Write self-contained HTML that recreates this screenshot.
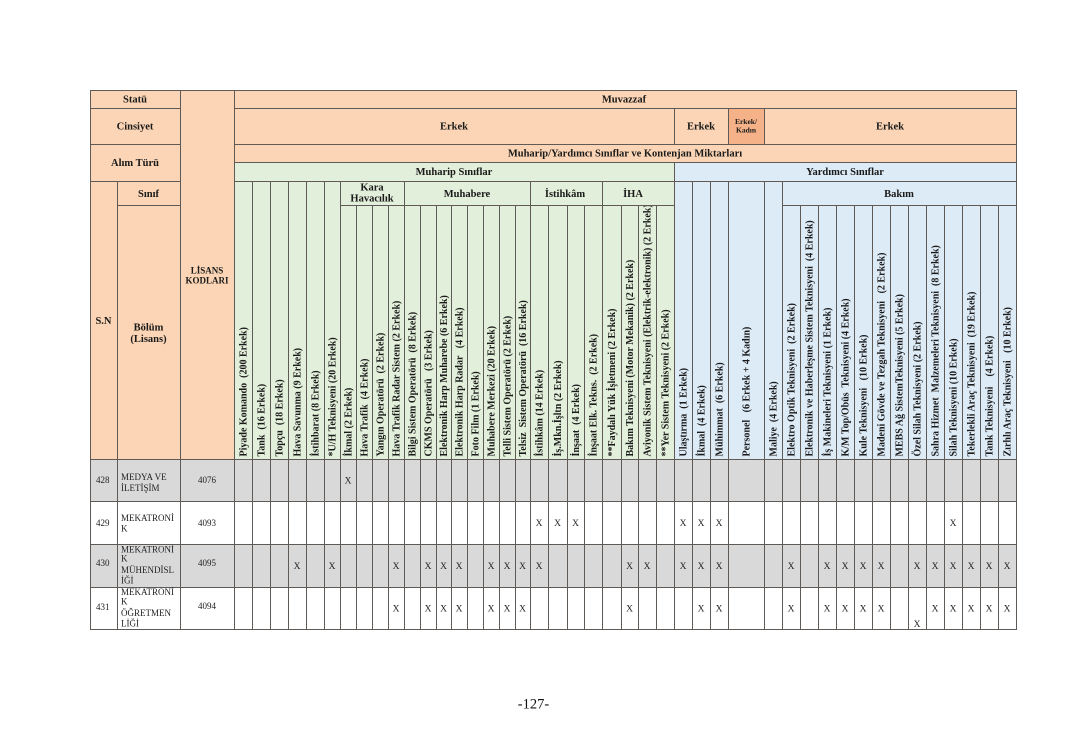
<!DOCTYPE html>
<html>
<head>
<meta charset="utf-8">
<style>
  html,body{margin:0;padding:0;background:#ffffff;}
  body{width:1068px;height:755px;overflow:hidden;position:relative;}
  svg{position:absolute;left:0;top:0;}
  .h{font-family:"Liberation Serif","DejaVu Serif",serif;font-weight:bold;font-size:10.5px;fill:#1a1a1a;text-anchor:middle;}
  .v{font-family:"Liberation Serif","DejaVu Serif",serif;font-weight:bold;font-size:10px;fill:#1a1a1a;white-space:pre;}
  .d{font-family:"Liberation Serif","DejaVu Serif",serif;font-size:9px;fill:#222;}
  .x{font-family:"Liberation Serif","DejaVu Serif",serif;font-size:9.5px;fill:#222;text-anchor:middle;}
</style>
</head>
<body>
<svg width="1068" height="755" viewBox="0 0 1068 755" xmlns="http://www.w3.org/2000/svg">
  <defs>
    <clipPath id="vc"><rect x="234" y="206" width="782" height="253"/></clipPath>
  </defs>
  <!-- fills -->
  <rect x="90" y="90" width="926" height="72" fill="#FBD5B5"/>
  <rect x="90" y="90" width="144" height="369" fill="#FBD5B5"/>
  <rect x="728" y="108" width="36" height="36" fill="#F5B288"/>
  <rect x="234" y="162" width="440" height="297" fill="#E2EFDA"/>
  <rect x="674" y="162" width="342" height="297" fill="#DDEBF7"/>
  <rect x="90" y="459" width="926" height="42" fill="#D9D9D9"/>
  <rect x="90" y="544" width="926" height="43" fill="#D9D9D9"/>

  <!-- grid lines -->
  <path fill="none" stroke="#5f5a56" stroke-width="1" shape-rendering="crispEdges" d="
  M90.5 90V630 M180.5 90V630 M234.5 90V630 M1016.5 90V630
  M117.5 181V630
  M674.5 108V144 M728.5 108V144 M764.5 108V144 M674.5 162V630
  M252.5 181V630 M270.5 181V630 M288.5 181V630 M306.5 181V630 M324.5 181V630 M340.5 181V630
  M404.5 181V630 M530.5 181V630 M602.5 181V630 M692.5 181V630 M710.5 181V630 M728.5 181V630
  M764.5 181V630 M782.5 181V630
  M356.5 205V630 M372.5 205V630 M388.5 205V630
  M420.5 205V630 M436.5 205V630 M451.5 205V630 M467.5 205V630 M483.5 205V630 M499.5 205V630 M515.5 205V630
  M548.5 205V630 M567.5 205V630 M584.5 205V630
  M621.5 205V630 M638.5 205V630 M656.5 205V630
  M800.5 205V630 M818.5 205V630 M836.5 205V630 M854.5 205V630 M872.5 205V630 M890.5 205V630
  M908.5 205V630 M926.5 205V630 M944.5 205V630 M962.5 205V630 M980.5 205V630 M998.5 205V630
  M90 90.5H1017
  M90 108.5H181 M234 108.5H1017
  M90 144.5H181 M234 144.5H1017
  M234 162.5H1017
  M90 181.5H181 M234 181.5H1017
  M117 205.5H181 M340 205.5H675 M782 205.5H1017
  M90 459.5H1017 M90 501.5H1017 M90 544.5H1017 M90 587.5H1017 M90 629.5H1017
  "/>

  <!-- left header texts -->
  <text class="h" x="135" y="102.5">Statü</text>
  <text class="h" x="135" y="129.5">Cinsiyet</text>
  <text class="h" x="135" y="166">Alım Türü</text>
  <text class="h" x="148.5" y="197">Sınıf</text>
  <text class="h" x="103.5" y="324">S.N</text>
  <text class="h" x="148.5" y="330.5">Bölüm</text>
  <text class="h" x="148.5" y="342">(Lisans)</text>
  <text class="h" x="207" y="273.5" style="font-size:9px">LİSANS</text>
  <text class="h" x="207" y="283.5" style="font-size:9px">KODLARI</text>

  <!-- right header texts -->
  <text class="h" x="624" y="102.5">Muvazzaf</text>
  <text class="h" x="454" y="129.5">Erkek</text>
  <text class="h" x="701" y="129.5">Erkek</text>
  <text class="h" x="746" y="124" style="font-size:7.5px">Erkek/</text>
  <text class="h" x="746" y="132.5" style="font-size:7.5px">Kadın</text>
  <text class="h" x="890" y="129.5">Erkek</text>
  <text class="h" x="625" y="156.5">Muharip/Yardımcı Sınıflar ve Kontenjan Miktarları</text>
  <text class="h" x="454" y="175">Muharip Sınıflar</text>
  <text class="h" x="845" y="175">Yardımcı Sınıflar</text>
  <text class="h" x="372" y="190.7">Kara</text>
  <text class="h" x="372" y="201.5">Havacılık</text>
  <text class="h" x="467" y="197">Muhabere</text>
  <text class="h" x="565" y="197">İstihkâm</text>
  <text class="h" x="633" y="197">İHA</text>
  <text class="h" x="899" y="197">Bakım</text>

  <!-- vertical column headers -->
  <g clip-path="url(#vc)">
    <text class="v" transform="translate(246.5,456.5) rotate(-90)">Piyade Komando  (200 Erkek)</text>
    <text class="v" transform="translate(264.5,456.5) rotate(-90)">Tank  (16 Erkek)</text>
    <text class="v" transform="translate(282.5,456.5) rotate(-90)">Topçu  (18 Erkek)</text>
    <text class="v" transform="translate(300.5,456.5) rotate(-90)">Hava Savunma (9 Erkek)</text>
    <text class="v" transform="translate(318.5,456.5) rotate(-90)">İstihbarat (8 Erkek)</text>
    <text class="v" transform="translate(335.5,456.5) rotate(-90)">*U/H Teknisyeni (20 Erkek)</text>
    <text class="v" transform="translate(351.5,456.5) rotate(-90)">İkmal (2 Erkek)</text>
    <text class="v" transform="translate(367.5,456.5) rotate(-90)">Hava Trafik  (4 Erkek)</text>
    <text class="v" transform="translate(383.5,456.5) rotate(-90)">Yangın Operatörü  (2 Erkek)</text>
    <text class="v" transform="translate(399.5,456.5) rotate(-90)">Hava Trafik Radar Sistem (2 Erkek)</text>
    <text class="v" transform="translate(415.5,456.5) rotate(-90)">Bilgi Sistem Operatörü  (8 Erkek)</text>
    <text class="v" transform="translate(431.5,456.5) rotate(-90)">CKMS Operatörü   (3 Erkek)</text>
    <text class="v" transform="translate(447,456.5) rotate(-90)">Elektronik Harp Muharebe (6 Erkek)</text>
    <text class="v" transform="translate(462.5,456.5) rotate(-90)">Elektronik Harp Radar   (4 Erkek)</text>
    <text class="v" transform="translate(478.5,456.5) rotate(-90)">Foto Film (1 Erkek)</text>
    <text class="v" transform="translate(494.5,456.5) rotate(-90)">Muhabere Merkezi (20 Erkek)</text>
    <text class="v" transform="translate(510.5,456.5) rotate(-90)">Telli Sistem Operatörü (2 Erkek)</text>
    <text class="v" transform="translate(526,456.5) rotate(-90)">Telsiz  Sistem Operatörü  (16 Erkek)</text>
    <text class="v" transform="translate(542.5,456.5) rotate(-90)">İstihkâm (14 Erkek)</text>
    <text class="v" transform="translate(561,456.5) rotate(-90)">İş.Mkn.İşltn (2 Erkek)</text>
    <text class="v" transform="translate(579,456.5) rotate(-90)">İnşaat  (4 Erkek)</text>
    <text class="v" transform="translate(596.5,456.5) rotate(-90)">İnşaat Elk. Tekns.  (2 Erkek)</text>
    <text class="v" transform="translate(615,456.5) rotate(-90)">**Faydalı Yük İşletmeni (2 Erkek)</text>
    <text class="v" transform="translate(633,456.5) rotate(-90)">Bakım Teknisyeni (Motor Mekanik) (2 Erkek)</text>
    <text class="v" transform="translate(650.5,456.5) rotate(-90)">Aviyonik Sistem Teknisyeni (Elektrik-elektronik) (2 Erkek)</text>
    <text class="v" transform="translate(668.5,456.5) rotate(-90)">**Yer Sistem Teknisyeni (2 Erkek)</text>
    <text class="v" transform="translate(686.5,456.5) rotate(-90)">Ulaştırma  (1 Erkek)</text>
    <text class="v" transform="translate(704.5,456.5) rotate(-90)">İkmal  (4 Erkek)</text>
    <text class="v" transform="translate(722.5,456.5) rotate(-90)">Mühimmat  (6 Erkek)</text>
    <text class="v" transform="translate(749.5,456.5) rotate(-90)">Personel   (6 Erkek + 4 Kadın)</text>
    <text class="v" transform="translate(776.5,456.5) rotate(-90)">Maliye  (4 Erkek)</text>
    <text class="v" transform="translate(794.5,456.5) rotate(-90)">Elektro Optik Teknisyeni  (2 Erkek)</text>
    <text class="v" transform="translate(812.5,456.5) rotate(-90)">Elektronik ve Haberleşme Sistem Teknisyeni  (4 Erkek)</text>
    <text class="v" transform="translate(830.5,456.5) rotate(-90)">İş Makineleri Teknisyeni (1 Erkek)</text>
    <text class="v" transform="translate(848.5,456.5) rotate(-90)">K/M Top/Obüs  Teknisyeni (4 Erkek)</text>
    <text class="v" transform="translate(866.5,456.5) rotate(-90)">Kule Teknisyeni   (10 Erkek)</text>
    <text class="v" transform="translate(884.5,456.5) rotate(-90)">Madeni Gövde ve Tezgah Teknisyeni   (2 Erkek)</text>
    <text class="v" transform="translate(902.5,456.5) rotate(-90)">MEBS Ağ SistemTeknisyeni (5 Erkek)</text>
    <text class="v" transform="translate(920.5,456.5) rotate(-90)">Özel Silah Teknisyeni (2 Erkek)</text>
    <text class="v" transform="translate(938.5,456.5) rotate(-90)">Sahra Hizmet  Malzemeleri Teknisyeni  (8 Erkek)</text>
    <text class="v" transform="translate(956.5,456.5) rotate(-90)">Silah Teknisyeni (10 Erkek)</text>
    <text class="v" transform="translate(974.5,456.5) rotate(-90)">Tekerlekli Araç Teknisyeni  (19 Erkek)</text>
    <text class="v" transform="translate(992.5,456.5) rotate(-90)">Tank Teknisyeni    (4 Erkek)</text>
    <text class="v" transform="translate(1010.5,456.5) rotate(-90)">Zırhlı Araç Teknisyeni   (10 Erkek)</text>
  </g>

  <!-- data rows: left columns -->
  <text class="d" x="96" y="483">428</text>
  <text class="d" x="121" y="480">MEDYA VE</text>
  <text class="d" x="121" y="491">İLETİŞİM</text>
  <text class="d" x="207" y="483" text-anchor="middle">4076</text>

  <text class="d" x="96" y="526">429</text>
  <text class="d" x="121" y="521">MEKATRONİ</text>
  <text class="d" x="121" y="531.5">K</text>
  <text class="d" x="207" y="526" text-anchor="middle">4093</text>

  <text class="d" x="96" y="566">430</text>
  <text class="d" x="121" y="552.5">MEKATRONİ</text>
  <text class="d" x="121" y="561.5">K</text>
  <text class="d" x="121" y="573">MÜHENDİSL</text>
  <text class="d" x="121" y="583.5">İĞİ</text>
  <text class="d" x="207" y="566" text-anchor="middle">4095</text>

  <text class="d" x="96" y="610">431</text>
  <text class="d" x="121" y="595">MEKATRONİ</text>
  <text class="d" x="121" y="604.5">K</text>
  <text class="d" x="121" y="616">ÖĞRETMEN</text>
  <text class="d" x="121" y="626.5">LİĞİ</text>
  <text class="d" x="207" y="609" text-anchor="middle">4094</text>

  <!-- X marks row 428 -->
  <text class="x" x="348" y="483.5">X</text>

  <!-- row 429 -->
  <text class="x" x="539" y="526">X</text>
  <text class="x" x="557.5" y="526">X</text>
  <text class="x" x="575.5" y="526">X</text>
  <text class="x" x="683" y="526">X</text>
  <text class="x" x="701" y="526">X</text>
  <text class="x" x="719" y="526">X</text>
  <text class="x" x="953" y="526">X</text>

  <!-- row 430 -->
  <text class="x" x="297" y="569">X</text>
  <text class="x" x="332" y="569">X</text>
  <text class="x" x="396" y="569">X</text>
  <text class="x" x="428" y="569">X</text>
  <text class="x" x="443.5" y="569">X</text>
  <text class="x" x="459" y="569">X</text>
  <text class="x" x="491" y="569">X</text>
  <text class="x" x="507" y="569">X</text>
  <text class="x" x="522.5" y="569">X</text>
  <text class="x" x="539" y="569">X</text>
  <text class="x" x="629.5" y="569">X</text>
  <text class="x" x="647" y="569">X</text>
  <text class="x" x="683" y="569">X</text>
  <text class="x" x="701" y="569">X</text>
  <text class="x" x="719" y="569">X</text>
  <text class="x" x="791" y="569">X</text>
  <text class="x" x="827" y="569">X</text>
  <text class="x" x="845" y="569">X</text>
  <text class="x" x="863" y="569">X</text>
  <text class="x" x="881" y="569">X</text>
  <text class="x" x="917" y="569">X</text>
  <text class="x" x="935" y="569">X</text>
  <text class="x" x="953" y="569">X</text>
  <text class="x" x="971" y="569">X</text>
  <text class="x" x="989" y="569">X</text>
  <text class="x" x="1007" y="569">X</text>

  <!-- row 431 -->
  <text class="x" x="396" y="611.5">X</text>
  <text class="x" x="428" y="611.5">X</text>
  <text class="x" x="443.5" y="611.5">X</text>
  <text class="x" x="459" y="611.5">X</text>
  <text class="x" x="491" y="611.5">X</text>
  <text class="x" x="507" y="611.5">X</text>
  <text class="x" x="522.5" y="611.5">X</text>
  <text class="x" x="629.5" y="611.5">X</text>
  <text class="x" x="701" y="611.5">X</text>
  <text class="x" x="719" y="611.5">X</text>
  <text class="x" x="791" y="611.5">X</text>
  <text class="x" x="827" y="611.5">X</text>
  <text class="x" x="845" y="611.5">X</text>
  <text class="x" x="863" y="611.5">X</text>
  <text class="x" x="881" y="611.5">X</text>
  <text class="x" x="917" y="627">X</text>
  <text class="x" x="935" y="611.5">X</text>
  <text class="x" x="953" y="611.5">X</text>
  <text class="x" x="971" y="611.5">X</text>
  <text class="x" x="989" y="611.5">X</text>
  <text class="x" x="1007" y="611.5">X</text>

  <!-- page number -->
  <text x="533.5" y="708.5" text-anchor="middle" style="font-family:'Liberation Serif','DejaVu Serif',serif;font-size:14.5px;fill:#111;">-127-</text>
</svg>
</body>
</html>
